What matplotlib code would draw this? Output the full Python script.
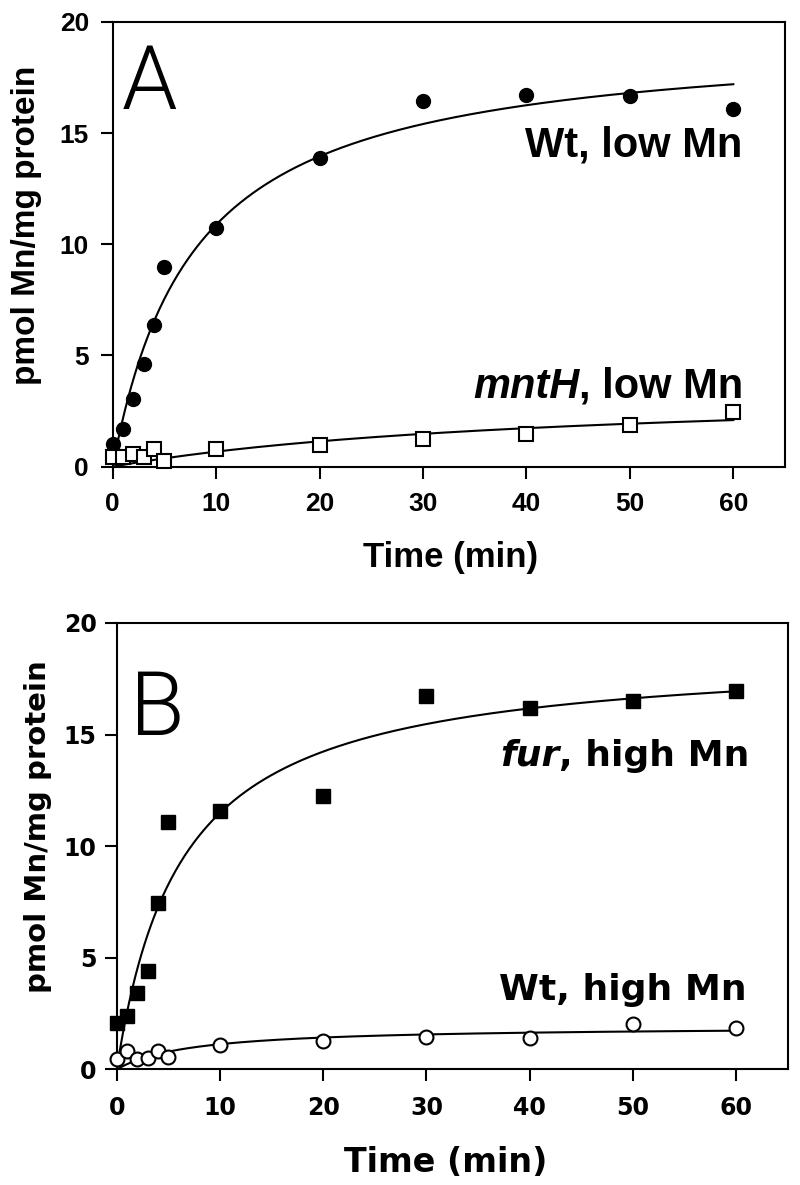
import numpy as np
import matplotlib
matplotlib.use('Agg')
import matplotlib.pyplot as plt

# dane
czas = [0, 1, 2, 3, 4, 5, 10, 20, 30, 40, 50, 60]
wt_low = [1.0, 1.68, 3.03, 4.61, 6.35, 8.98, 10.74, 13.86, 16.43, 16.71, 16.68, 16.1]
mnth_low = [0.42, 0.42, 0.57, 0.45, 0.8, 0.24, 0.78, 0.98, 1.24, 1.49, 1.86, 2.46]
fur_high = [2.07, 2.39, 3.44, 4.41, 7.47, 11.1, 11.59, 12.24, 16.72, 16.19, 16.51, 16.95]
wt_high = [0.48, 0.81, 0.48, 0.52, 0.82, 0.58, 1.1, 1.29, 1.45, 1.42, 2.03, 1.85]

x_ticks = [0, 10, 20, 30, 40, 50, 60]
y_ticks = [0, 5, 10, 15, 20]


# dopasowanie hiperboli Bmax*t/(K+t) metodą najmniejszych kwadratów
def dopasuj(t, y):
    t = np.asarray(t, float)
    y = np.asarray(y, float)
    best = None
    for K in np.linspace(0.5, 200, 4000):
        f = t / (K + t)
        B = f @ y / (f @ f)
        sse = ((y - B * f) ** 2).sum()
        if best is None or sse < best[0]:
            best = (sse, B, K)
    return best[1], best[2]


def krzywa(ax, t, y):
    B, K = dopasuj(t, y)
    tt = np.linspace(0, max(t), 400)
    ax.plot(tt, B * tt / (K + tt), color='black', lw=1.5, zorder=2)


def styl_osi(ax, rodzina, rozmiar, pad_x, pad_y):
    ax.set_xlim(0, 65)
    ax.set_ylim(0, 20)
    ax.set_xticks(x_ticks)
    ax.set_yticks(y_ticks)
    for s in ax.spines.values():
        s.set_linewidth(1.5)
    ax.tick_params(direction='out', length=8.5, width=1.5, top=False, right=False)
    ax.tick_params(axis='x', pad=pad_x)
    ax.tick_params(axis='y', pad=pad_y)
    for lab in ax.get_xticklabels() + ax.get_yticklabels():
        lab.set_fontfamily(rodzina)
        lab.set_fontweight('bold')
        lab.set_fontsize(rozmiar)


def etykieta(ax, x, y, kursywa, reszta, rodzina, rozmiar):
    fig = ax.figure
    t2 = ax.text(x, y, reszta, ha='right', va='baseline', family=rodzina,
                 fontweight='bold', fontsize=rozmiar)
    if kursywa:
        fig.canvas.draw()
        bb = t2.get_window_extent()
        x0 = ax.transData.inverted().transform((bb.x0, 0))[0]
        ax.text(x0, y, kursywa, ha='right', va='baseline', family=rodzina,
                fontweight='bold', fontstyle='italic', fontsize=rozmiar)


fig = plt.figure(figsize=(8, 11.85), dpi=100)

# panel A
axA = fig.add_axes([0.1409, 0.6062, 0.8404, 0.3753])
krzywa(axA, czas, wt_low)
krzywa(axA, czas, mnth_low)
axA.plot(czas, wt_low, 'o', color='black', ms=10, clip_on=False, zorder=3)
axA.plot(czas, mnth_low, 's', mfc='white', mec='black', mew=1.5, ms=10,
         clip_on=False, zorder=3)
styl_osi(axA, 'Liberation Sans', 19, 10, 8.5)
axA.set_xlabel('Time (min)', family='Liberation Sans', fontweight='bold', fontsize=25)
axA.xaxis.set_label_coords(0.502, -0.167)
axA.set_ylabel('pmol Mn/mg protein', family='Liberation Sans', fontweight='bold', fontsize=24)
axA.yaxis.set_label_coords(-0.105, 0.5435)
axA.text(0.9, 16.07, 'A', family=['Roboto', 'DejaVu Sans'], fontweight=300,
         fontsize=64, va='baseline', ha='left')
etykieta(axA, 60.9, 13.95, '', 'Wt, low Mn', 'Liberation Sans', 30)
etykieta(axA, 61.0, 3.1, 'mntH', ', low Mn', 'Liberation Sans', 30)

# panel B
axB = fig.add_axes([0.1459, 0.0975, 0.8388, 0.3768])
krzywa(axB, czas, fur_high)
krzywa(axB, czas, wt_high)
axB.plot(czas, fur_high, 's', color='black', ms=10, clip_on=False, zorder=3)
axB.plot(czas, wt_high, 'o', mfc='white', mec='black', mew=1.5, ms=10,
         clip_on=False, zorder=3)
styl_osi(axB, 'DejaVu Sans', 17, 10.5, 6)
axB.set_xlabel('Time (min)', family='DejaVu Sans', fontweight='bold', fontsize=24)
axB.xaxis.set_label_coords(0.49, -0.171)
axB.set_ylabel('pmol Mn/mg protein', family='DejaVu Sans', fontweight='bold', fontsize=21)
axB.yaxis.set_label_coords(-0.0964, 0.543)
axB.text(1.3, 15.0, 'B', family=['Roboto', 'DejaVu Sans'], fontweight=300,
         fontsize=64, va='baseline', ha='left')
etykieta(axB, 61.3, 13.6, 'fur', ', high Mn', 'DejaVu Sans', 26)
etykieta(axB, 61.0, 3.1, '', 'Wt, high Mn', 'DejaVu Sans', 26)

fig.savefig('out.png', dpi=100)
